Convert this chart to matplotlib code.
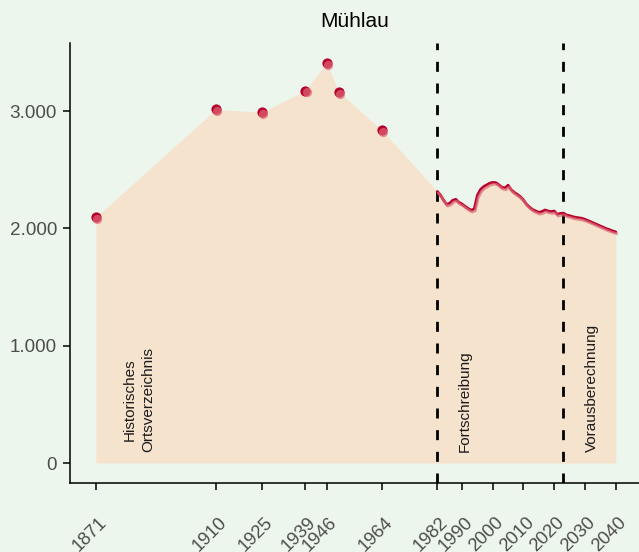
import matplotlib
matplotlib.use("Agg")
import matplotlib.pyplot as plt
from matplotlib.transforms import offset_copy, ScaledTranslation
import numpy as np

plt.rcParams['font.family'] = ['Liberation Sans', 'DejaVu Sans']

# ---- data ----
title = "Mühlau"
hist_years = [1871, 1910, 1925, 1939, 1946, 1950, 1964]
hist_pop = [2095, 3015, 2990, 3174, 3410, 3163, 2836]

fort_years = list(range(1982, 2023))
fort_pop = [2315, 2285, 2242, 2205, 2214, 2239, 2248, 2222, 2208, 2188,
            2170, 2155, 2165, 2280, 2330, 2355, 2370, 2385, 2392, 2390,
            2372, 2350, 2345, 2368, 2330, 2307, 2290, 2270, 2242, 2205,
            2180, 2160, 2148, 2137, 2143, 2157, 2148, 2143, 2148, 2120,
            2128]

vor_years = list(range(2023, 2041))
vor_pop = [2130, 2114, 2108, 2100, 2094, 2090, 2086, 2077, 2066, 2055,
           2043, 2032, 2020, 2009, 1997, 1988, 1978, 1970]

x_ticks = [1871, 1910, 1925, 1939, 1946, 1964, 1982, 1990, 2000, 2010, 2020, 2030, 2040]
y_ticks = [0, 1000, 2000, 3000]
y_labels = ["0", "1.000", "2.000", "3.000"]

breaks = [1982, 2023]
section_labels = ["Historisches\nOrtsverzeichnis", "Fortschreibung", "Vorausberechnung"]
section_x = [1885, 1991, 2032.2]

# ---- style ----
bg = '#EDF6EC'
fill_col = '#F5E3CD'
dark = '#B5002B'
pink = '#DE6876'

fig = plt.figure(figsize=(6.39, 5.52), dpi=100, facecolor=bg)
ax = fig.add_axes([70/639, (552-483)/552, (639-70)/639, (483-43)/552])
ax.set_facecolor(bg)

all_years = hist_years + fort_years + vor_years
all_pop = hist_pop + fort_pop + vor_pop
ax.fill_between(all_years, 0, all_pop, color=fill_col, lw=0, zorder=1)

for b in breaks:
    ax.axvline(b, color='black', lw=2.0, linestyle=(0, (3.6, 4.2)), zorder=3)

line_years = fort_years + vor_years
line_pop = fort_pop + vor_pop
shadow = offset_copy(ax.transData, fig=fig, x=1.0, y=-1.8, units='dots')
ax.plot(line_years, line_pop, color=dark, lw=2.0, zorder=4, solid_capstyle='round')
ax.plot(line_years, line_pop, color=pink, lw=2.0, alpha=0.7, zorder=4.5,
        transform=shadow, solid_capstyle='round')

shadow_pt = offset_copy(ax.transData, fig=fig, x=1.5, y=-1.8, units='dots')
ax.scatter(hist_years, hist_pop, s=54, color=dark, lw=0, zorder=5)
ax.scatter(hist_years, hist_pop, s=44, color=pink, alpha=0.7, lw=0, zorder=5.5,
           transform=shadow_pt)

for lab, xx in zip(section_labels, section_x):
    ax.text(xx, 95, lab, rotation=90, ha='center', va='bottom', fontsize=11,
            color='#1a1a1a', linespacing=1.45, zorder=6)

ax.set_xlim(1862.6, 2047.55)
ax.set_ylim(-170.5, 3580.6)

for s in ['top', 'right']:
    ax.spines[s].set_visible(False)
for s in ['left', 'bottom']:
    ax.spines[s].set_color('black')
    ax.spines[s].set_linewidth(1.1)

ax.set_yticks(y_ticks)
ax.set_yticklabels(y_labels)
ax.set_xticks(x_ticks)
ax.set_xticklabels([str(x) for x in x_ticks], rotation=45, ha='right', va='top',
                   rotation_mode='anchor')
ax.tick_params(axis='y', length=5, width=1.4, color='#333333', labelcolor='#4D4D4D',
               labelsize=13.6, pad=4.3)
ax.tick_params(axis='x', length=5, width=1.4, color='#333333', labelcolor='#4D4D4D',
               labelsize=13.2, pad=17.3)
off = ScaledTranslation(2/100, 0, fig.dpi_scale_trans)
for lbl in ax.get_xticklabels():
    lbl.set_transform(lbl.get_transform() + off)

ax.set_title(title, fontsize=15, color='black', pad=11.5)

fig.savefig('out.png', dpi=100, facecolor=bg)
